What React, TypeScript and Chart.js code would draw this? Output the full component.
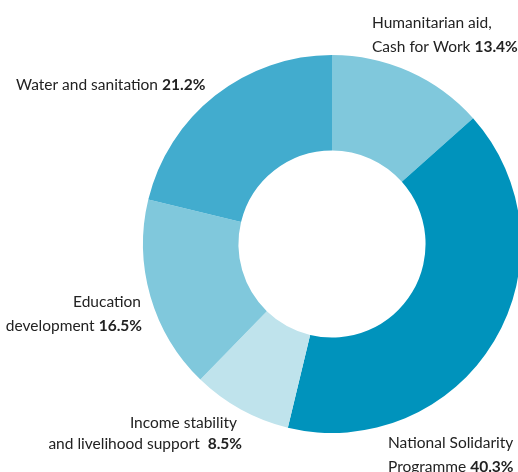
import React, { useEffect, useRef } from "react";
import { Chart, registerables } from "chart.js";

Chart.register(...registerables);

const categories = [
  "Humanitarian aid, Cash for Work",
  "National Solidarity Programme",
  "Income stability and livelihood support",
  "Education development",
  "Water and sanitation",
];
const shares = [13.4, 40.3, 8.5, 16.5, 21.2];
const colors = ["#80c8dc", "#0093bc", "#bfe3ec", "#80c8dc", "#42acce"];

// label text lines per category; the last line ends with the bold share
const labelLines = [
  ["Humanitarian aid,", "Cash for Work "],
  ["National Solidarity", "Programme "],
  ["Income stability", "and livelihood support  "],
  ["Education", "development "],
  ["Water and sanitation "],
];
// label layout: anchor x per line, first baseline y, alignment, line gap
const labelLayout = [
  { xs: [372, 372], y: 28, align: "left", gap: 24 },
  { xs: [388, 388], y: 448, align: "left", gap: 24 },
  { xs: [237, 242], y: 428, align: "right", gap: 21 },
  { xs: [141, 142], y: 307, align: "right", gap: 24 },
  { xs: [16], y: 90, align: "left", gap: 24 },
];

const FONT = "Lato, 'Open Sans', sans-serif";

const labelPlugin = {
  id: "sliceLabels",
  afterDraw(chart: any) {
    const ctx = chart.ctx as CanvasRenderingContext2D;
    ctx.save();
    ctx.fillStyle = "#222222";
    ctx.textBaseline = "alphabetic";
    ctx.textAlign = "left";
    const regular = `400 15.5px ${FONT}`;
    const bold = `700 15.5px ${FONT}`;
    labelLines.forEach((lines, i) => {
      const lay = labelLayout[i];
      lines.forEach((line, li) => {
        const isLast = li === lines.length - 1;
        const pct = isLast ? shares[i].toFixed(1) + "%" : "";
        ctx.font = regular;
        const w1 = ctx.measureText(line).width;
        ctx.font = bold;
        const w2 = pct ? ctx.measureText(pct).width : 0;
        const total = w1 + w2;
        const ax = lay.xs[li];
        const x0 = lay.align === "right" ? ax - total : ax;
        const y = lay.y + li * lay.gap;
        ctx.font = regular;
        ctx.fillText(line, x0, y);
        if (pct) {
          ctx.font = bold;
          ctx.fillText(pct, x0 + w1, y);
        }
      });
    });
    ctx.restore();
  },
};

export default function App() {
  const ref = useRef<HTMLCanvasElement | null>(null);
  useEffect(() => {
    if (!ref.current) return;
    const chart = new Chart(ref.current, {
      type: "doughnut",
      data: {
        labels: categories,
        datasets: [
          {
            data: shares,
            backgroundColor: colors,
            borderWidth: 0,
            hoverOffset: 0,
          },
        ],
      },
      options: {
        animation: false,
        responsive: false,
        cutout: "49.5%",
        rotation: 0,
        layout: { padding: { left: 143, top: 55, right: 39, bottom: 39 } },
        plugins: {
          legend: { display: false },
          tooltip: { enabled: false },
        },
      },
      plugins: [labelPlugin],
    });
    return () => chart.destroy();
  }, []);
  return (
    <div
      style={{
        position: "fixed",
        left: 0,
        top: 0,
        width: 518,
        height: 472,
        overflow: "hidden",
        background: "#fff",
      }}
    >
      <canvas ref={ref} width={560} height={472} style={{ display: "block", width: 560, height: 472 }} />
    </div>
  );
}
